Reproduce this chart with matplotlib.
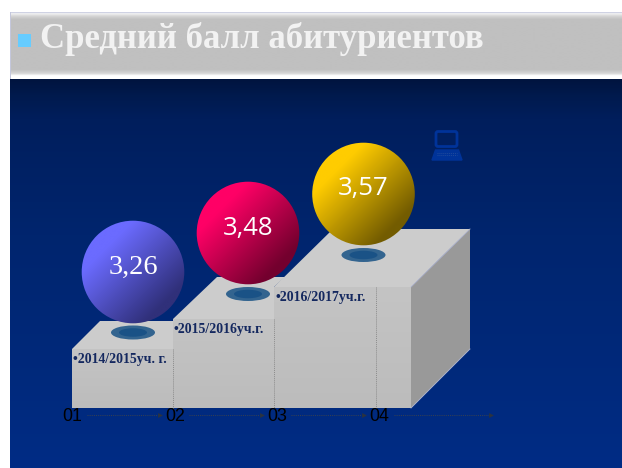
import numpy as np
import matplotlib
matplotlib.use('Agg')
import matplotlib.pyplot as plt
from matplotlib.colors import LinearSegmentedColormap
from matplotlib.patches import Polygon, Circle, Ellipse, Rectangle, FancyBboxPatch

TITLE = 'Средний балл абитуриентов'
YEARS = ['•2014/2015уч. г.', '•2015/2016уч.г.', '•2016/2017уч.г.']
SCORES = [3.26, 3.48, 3.57]
TICKS = ['01', '02', '03', '04']
TICK_POS = [72, 175, 277, 379]

SPHERE_COLORS = [('#6b6bff', '#30307a'), ('#ff0066', '#73002e'), ('#ffcc00', '#735c00')]
SCORE_FONTS = ['Liberation Serif', 'Open Sans', 'Open Sans']
SCORE_SIZES = [20.5, 18.5, 18.5]

STEP_LEFT = [72, 173, 274]
STEP_RIGHT = [173, 274, 411]
STEP_TOP = [349, 319, 287]
BASE = 408
DEPTH = 59


def gradient(ax, x0, x1, y0, y1, stops, angle='v', clip=None, zorder=1):
    cmap = LinearSegmentedColormap.from_list('g', stops)
    t = np.linspace(0, 1, 256)
    if angle == 'v':
        img = t[:, None]
    else:
        img = (t[:, None] + t[None, :]) / 2
    im = ax.imshow(img, extent=(x0, x1, y1, y0), cmap=cmap, vmin=0, vmax=1,
                   aspect='auto', zorder=zorder, interpolation='bilinear')
    if clip is not None:
        im.set_clip_path(clip)
    return im


fig = plt.figure(figsize=(6.22, 4.68), dpi=100, facecolor='white')
ax = fig.add_axes([0, 0, 1, 1])
ax.axis('off')

# фон
gradient(ax, 10, 622, 79, 468,
         [(0, '#00143f'), (0.04, '#001a4d'), (0.1, '#001e5c'), (0.4, '#00256e'), (1, '#002c85')])

# шапка
gradient(ax, 10, 622, 12, 79,
         [(0, '#bfc3dc'), (0.02, '#f4f4f4'), (0.06, '#d4d4d4'), (0.11, '#c0c0c0'),
          (0.86, '#c0c0c0'), (0.92, '#d8d8d8'), (0.95, '#ffffff'), (1, '#ffffff')], zorder=2)
ax.add_patch(Rectangle((10, 12), 1, 67, color='#c4c7dc', zorder=3, lw=0))
ax.add_patch(Rectangle((18, 34), 13, 13, color='#66ccff', zorder=3, lw=0))
ax.text(40, 38.5, TITLE, family='Liberation Serif', weight='bold', fontsize=25,
        color='#f2f2f2', ha='left', va='center', zorder=3)

# значок компьютера
icon = '#003399'
ax.add_patch(FancyBboxPatch((436, 131.5), 21, 15, boxstyle='round,pad=0,rounding_size=2',
                            fc='none', ec=icon, lw=2.0, zorder=2))
ax.add_patch(Polygon([(435.5, 150), (458.5, 150), (462, 160), (432, 160)], closed=True,
                     fc=icon, ec=icon, lw=1, zorder=2))
for yy in (152.5, 155):
    ax.plot([437, 457], [yy, yy], color='#1f4a9c', lw=0.7, ls=(0, (1, 1)), zorder=3)

# ступени
top_polys = [
    [(72, 349), (100, 321), (173, 321), (173, 349)],
    [(173, 319), (217, 277), (285, 277), (274, 287), (274, 319)],
    [(274, 287), (333, 229), (470, 229), (411, 287)],
]
for i in range(3):
    x0, x1, y0 = STEP_LEFT[i], STEP_RIGHT[i], STEP_TOP[i]
    front = Polygon([(x0, y0), (x1, y0), (x1, BASE), (x0, BASE)], closed=True,
                    transform=ax.transData, fc='none', ec='none')
    ax.add_patch(front)
    gradient(ax, x0, x1, y0, BASE, ['#c4c4c4', '#bcbcbc'], clip=front, zorder=4)
    ax.add_patch(Polygon(top_polys[i], closed=True, fc='#cccccc', ec='none', zorder=4))

ax.add_patch(Polygon([(411, 287), (470, 229), (470, 349), (411, 408)], closed=True,
                     fc='#999999', ec='none', zorder=4))
ax.plot([411, 470], [287, 229], color='#b4b8d0', lw=0.6, zorder=5)
ax.plot([411, 470], [408, 349], color='#b4b8d0', lw=0.6, zorder=5)

# пунктир на ступенях
for x, y in [(173, 349), (274, 319), (376, 287)]:
    ax.plot([x, x], [y, BASE], color='#8c8c8c', lw=0.7, ls=(0, (1, 1)), zorder=5)

# шары и подписи
for i, score in enumerate(SCORES):
    cx = [133, 248, 363.5][i]
    cy = [272, 233, 194][i]
    ey = [332.5, 294, 255][i]
    ax.add_patch(Ellipse((cx, ey), 44, 14, fc='#33648f', ec='none', zorder=6))
    ax.add_patch(Ellipse((cx, ey), 28, 8.5, fc='#1a5286', ec='none', zorder=7))
    c = Circle((cx, cy), 51.3, transform=ax.transData, fc='none', ec='none')
    ax.add_patch(c)
    gradient(ax, cx - 52, cx + 52, cy - 52, cy + 52,
             [(0, SPHERE_COLORS[i][0]), (0.25, SPHERE_COLORS[i][0]), (0.8, SPHERE_COLORS[i][1]), (1, SPHERE_COLORS[i][1])],
             angle='d', clip=c, zorder=8)
    ax.text(cx, cy - 5, f'{score:.2f}'.replace('.', ','), family=SCORE_FONTS[i],
            fontsize=SCORE_SIZES[i], color='white', ha='center', va='center', zorder=9)
    ax.text(STEP_LEFT[i] + 1, STEP_TOP[i] + 11, YEARS[i], family='Liberation Serif',
            weight='bold', fontsize=9.9, color='#14285f', ha='left', va='center', zorder=9)

# ось с номерами
for lab, x in zip(TICKS, TICK_POS):
    ax.text(x, 416.5, lab, family='Liberation Sans', fontsize=12.8, color='black',
            ha='center', va='center', zorder=9)
for x0, x1 in [(87, 161), (189, 263), (291, 365), (394, 492)]:
    ax.plot([x0, x1 - 3], [414.5, 414.5], color='#39414f', lw=0.7, ls=(0, (1, 1.2)), zorder=9)
    ax.plot([x1 - 1.5], [414.5], marker='>', ms=3.5, color='#2b3340', mew=0, zorder=9)

ax.set_xlim(0, 622)
ax.set_ylim(468, 0)
fig.savefig('out.png', dpi=100)
